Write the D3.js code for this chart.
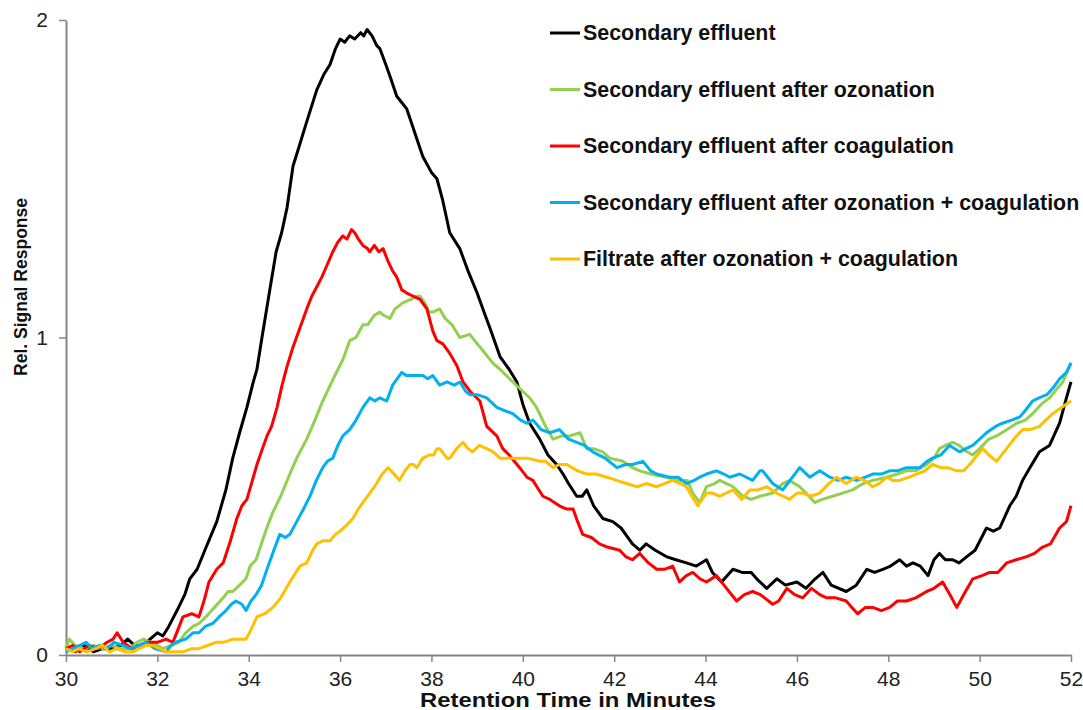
<!DOCTYPE html>
<html>
<head>
<meta charset="utf-8">
<script src="https://cdn.jsdelivr.net/npm/d3@7"></script>
<style>
  html, body { margin: 0; padding: 0; background: #fff; }
  svg { display: block; font-family: "Liberation Sans", Arial, sans-serif; }
</style>
</head>
<body>
<svg id="chart" width="1083" height="710"></svg>
<script>
// ---- data ----
const seriesNames = [
  "Secondary effluent",
  "Secondary effluent after ozonation",
  "Secondary effluent after coagulation",
  "Secondary effluent after ozonation + coagulation",
  "Filtrate after ozonation + coagulation"
];
const seriesColors = ["#000000", "#92D050", "#FF0000", "#00B0F0", "#FFC000"];

const xTicks = [30, 32, 34, 36, 38, 40, 42, 44, 46, 48, 50, 52];
const yTicks = [0, 1, 2];

const blackX = [30.0,30.2,30.4,30.6,30.8,31.0,31.2,31.35,31.5,31.7,31.84,32.0,32.12,32.25,32.43,32.6,32.71,32.87,33.04,33.3,33.5,33.65,33.8,33.96,34.1,34.18,34.29,34.45,34.6,34.72,34.84,34.97,35.1,35.27,35.49,35.65,35.78,35.9,36.0,36.1,36.21,36.32,36.45,36.52,36.59,36.7,36.8,36.87,37.0,37.1,37.24,37.35,37.46,37.6,37.81,38.0,38.12,38.25,38.4,38.62,38.8,39.0,39.15,39.28,39.5,39.7,39.87,40.0,40.15,40.37,40.55,40.74,40.88,41.0,41.18,41.3,41.4,41.55,41.75,41.97,42.15,42.4,42.56,42.7,42.9,43.14,43.35,43.58,43.8,44.02,44.15,44.35,44.6,44.8,45.0,45.12,45.34,45.56,45.75,46.0,46.2,46.4,46.57,46.75,47.08,47.3,47.53,47.7,47.88,48.05,48.25,48.4,48.54,48.7,48.87,49.0,49.12,49.25,49.41,49.55,49.72,49.9,50.15,50.3,50.44,50.66,50.8,50.94,51.1,51.31,51.53,51.75,51.9,52.0];
const blackY = [0.02,0.01,0.03,0.01,0.02,0.02,0.03,0.05,0.03,0.03,0.05,0.07,0.06,0.09,0.14,0.19,0.24,0.27,0.33,0.42,0.52,0.62,0.70,0.78,0.86,0.90,1.00,1.14,1.27,1.33,1.41,1.54,1.60,1.68,1.78,1.83,1.86,1.91,1.94,1.93,1.95,1.94,1.96,1.95,1.97,1.95,1.92,1.91,1.86,1.82,1.76,1.74,1.72,1.66,1.57,1.52,1.50,1.43,1.33,1.28,1.21,1.14,1.08,1.03,0.94,0.90,0.86,0.79,0.73,0.68,0.63,0.60,0.57,0.54,0.50,0.50,0.52,0.47,0.43,0.42,0.40,0.35,0.33,0.35,0.33,0.31,0.30,0.29,0.28,0.30,0.26,0.23,0.27,0.26,0.26,0.24,0.21,0.24,0.22,0.23,0.21,0.24,0.26,0.22,0.20,0.22,0.27,0.26,0.27,0.28,0.30,0.28,0.29,0.28,0.25,0.30,0.32,0.30,0.30,0.29,0.31,0.33,0.40,0.39,0.40,0.47,0.50,0.55,0.59,0.64,0.66,0.73,0.81,0.86];

const greenX = [30.0,30.07,30.2,30.4,30.6,30.8,31.0,31.2,31.4,31.55,31.7,31.85,32.0,32.12,32.3,32.47,32.62,32.78,32.92,33.06,33.25,33.44,33.55,33.65,33.8,33.94,34.03,34.16,34.3,34.42,34.53,34.7,34.9,35.05,35.27,35.45,35.62,35.85,36.06,36.21,36.35,36.5,36.6,36.75,36.87,36.95,37.09,37.2,37.38,37.55,37.68,37.75,37.85,37.95,38.03,38.18,38.3,38.45,38.62,38.84,39.0,39.12,39.34,39.5,39.71,40.0,40.15,40.3,40.5,40.66,40.85,41.03,41.25,41.4,41.55,41.75,41.9,42.19,42.4,42.56,42.8,43.14,43.43,43.6,43.72,43.87,44.02,44.2,44.31,44.6,44.82,45.0,45.19,45.47,45.69,45.84,46.06,46.2,46.39,46.55,46.78,47.0,47.22,47.45,47.66,47.97,48.2,48.4,48.6,48.84,49.0,49.12,49.25,49.41,49.55,49.72,49.85,50.0,50.2,50.37,50.6,50.81,51.0,51.16,51.35,51.53,51.7,51.82,52.0];
const greenY = [0.02,0.05,0.03,0.02,0.03,0.02,0.03,0.02,0.02,0.04,0.05,0.04,0.03,0.02,0.03,0.04,0.07,0.09,0.10,0.12,0.15,0.18,0.20,0.20,0.22,0.24,0.28,0.30,0.36,0.41,0.45,0.50,0.57,0.62,0.68,0.74,0.80,0.87,0.93,0.99,1.00,1.04,1.04,1.07,1.08,1.07,1.06,1.09,1.11,1.12,1.13,1.13,1.11,1.08,1.08,1.09,1.06,1.04,1.00,1.01,0.98,0.96,0.92,0.90,0.87,0.83,0.81,0.78,0.72,0.68,0.69,0.69,0.70,0.65,0.65,0.64,0.62,0.61,0.59,0.58,0.57,0.56,0.55,0.55,0.51,0.48,0.53,0.54,0.55,0.53,0.50,0.49,0.50,0.51,0.54,0.55,0.53,0.51,0.48,0.49,0.50,0.51,0.52,0.54,0.55,0.56,0.57,0.58,0.58,0.60,0.62,0.65,0.66,0.67,0.66,0.64,0.63,0.65,0.68,0.69,0.71,0.73,0.74,0.76,0.79,0.81,0.84,0.86,0.92];

const redX = [30.0,30.15,30.3,30.5,30.7,30.9,31.03,31.12,31.25,31.45,31.6,31.75,32.0,32.19,32.34,32.45,32.56,32.75,32.91,33.02,33.13,33.3,33.44,33.6,33.74,33.85,33.96,34.08,34.18,34.3,34.4,34.5,34.62,34.73,34.84,34.97,35.12,35.27,35.38,35.49,35.6,35.72,35.84,35.95,36.06,36.15,36.25,36.32,36.4,36.5,36.6,36.65,36.75,36.85,36.94,37.05,37.15,37.24,37.35,37.46,37.6,37.75,37.9,38.03,38.12,38.25,38.4,38.56,38.69,38.85,39.06,39.21,39.43,39.56,39.7,39.93,40.09,40.22,40.44,40.59,40.8,40.95,41.1,41.2,41.31,41.5,41.68,41.85,42.12,42.25,42.4,42.56,42.75,42.93,43.1,43.28,43.43,43.58,43.72,43.88,44.02,44.24,44.46,44.68,44.85,45.03,45.2,45.47,45.6,45.78,45.95,46.13,46.32,46.5,46.65,46.85,47.08,47.2,47.33,47.5,47.66,47.85,48.03,48.2,48.4,48.6,48.84,49.0,49.19,49.35,49.5,49.65,49.85,50.05,50.22,50.4,50.59,50.8,51.03,51.2,51.38,51.55,51.75,51.9,52.0];
const redY = [0.02,0.03,0.01,0.03,0.02,0.04,0.05,0.07,0.04,0.02,0.03,0.04,0.04,0.05,0.04,0.08,0.12,0.13,0.12,0.17,0.23,0.27,0.29,0.36,0.43,0.47,0.49,0.55,0.60,0.65,0.69,0.72,0.78,0.85,0.91,0.97,1.03,1.09,1.13,1.16,1.19,1.23,1.27,1.30,1.32,1.31,1.34,1.33,1.31,1.29,1.28,1.27,1.29,1.27,1.28,1.24,1.21,1.19,1.15,1.14,1.13,1.12,1.09,1.02,0.99,0.98,0.95,0.91,0.86,0.83,0.80,0.72,0.69,0.65,0.63,0.59,0.56,0.55,0.50,0.49,0.47,0.46,0.46,0.42,0.38,0.37,0.35,0.34,0.33,0.31,0.30,0.32,0.29,0.27,0.27,0.28,0.23,0.25,0.26,0.24,0.23,0.25,0.21,0.17,0.19,0.20,0.19,0.16,0.17,0.21,0.19,0.18,0.21,0.19,0.18,0.18,0.17,0.15,0.13,0.15,0.15,0.14,0.15,0.17,0.17,0.18,0.20,0.21,0.23,0.19,0.15,0.19,0.24,0.25,0.26,0.26,0.29,0.30,0.31,0.32,0.34,0.35,0.40,0.42,0.47];

const blueX = [30.0,30.15,30.3,30.44,30.58,30.72,30.9,31.05,31.25,31.4,31.6,31.75,31.95,32.19,32.3,32.4,32.62,32.78,32.91,33.05,33.22,33.35,33.5,33.62,33.72,33.85,33.94,34.05,34.16,34.28,34.4,34.55,34.68,34.8,34.9,35.05,35.2,35.34,35.48,35.62,35.72,35.84,35.95,36.06,36.21,36.35,36.5,36.65,36.76,36.87,37.02,37.15,37.35,37.45,37.53,37.68,37.81,37.92,38.03,38.18,38.34,38.5,38.62,38.75,38.84,39.0,39.21,39.43,39.6,39.78,39.95,40.09,40.22,40.4,40.59,40.8,41.0,41.18,41.35,41.53,41.8,42.06,42.25,42.4,42.63,42.8,42.93,43.21,43.4,43.58,43.75,43.87,44.02,44.24,44.4,44.53,44.75,45.03,45.19,45.25,45.47,45.69,45.85,46.06,46.28,46.5,46.72,46.9,47.08,47.3,47.5,47.66,47.85,48.03,48.2,48.4,48.69,48.85,48.97,49.15,49.34,49.56,49.7,49.85,50.0,50.15,50.35,50.5,50.7,50.88,51.0,51.16,51.3,51.47,51.6,51.75,51.9,52.0];
const blueY = [0.01,0.02,0.03,0.04,0.02,0.03,0.02,0.04,0.03,0.02,0.03,0.04,0.02,0.01,0.03,0.04,0.05,0.07,0.07,0.09,0.10,0.12,0.14,0.16,0.17,0.16,0.14,0.17,0.19,0.22,0.27,0.33,0.38,0.37,0.38,0.42,0.46,0.50,0.55,0.59,0.61,0.62,0.66,0.69,0.71,0.74,0.78,0.81,0.80,0.81,0.80,0.85,0.89,0.88,0.88,0.88,0.88,0.87,0.88,0.85,0.86,0.85,0.86,0.83,0.82,0.82,0.81,0.78,0.77,0.76,0.74,0.73,0.74,0.71,0.70,0.71,0.68,0.67,0.66,0.64,0.62,0.59,0.60,0.60,0.61,0.58,0.57,0.56,0.56,0.54,0.55,0.56,0.57,0.58,0.57,0.56,0.57,0.55,0.58,0.58,0.54,0.52,0.55,0.59,0.56,0.58,0.56,0.55,0.56,0.55,0.56,0.57,0.57,0.58,0.58,0.59,0.59,0.61,0.62,0.63,0.66,0.64,0.65,0.66,0.68,0.70,0.72,0.73,0.74,0.75,0.77,0.80,0.81,0.82,0.84,0.87,0.89,0.92];

const orangeX = [30.0,30.15,30.28,30.45,30.65,30.8,30.95,31.1,31.3,31.47,31.6,31.75,31.9,32.05,32.19,32.4,32.56,32.75,32.91,33.1,33.28,33.45,33.65,33.8,33.94,34.05,34.18,34.35,34.53,34.7,34.9,35.12,35.27,35.4,35.49,35.62,35.78,35.9,36.0,36.15,36.28,36.4,36.5,36.65,36.8,36.92,37.05,37.18,37.3,37.42,37.53,37.6,37.68,37.81,37.95,38.05,38.12,38.18,38.34,38.4,38.55,38.69,38.8,38.9,39.05,39.21,39.35,39.5,39.7,39.93,40.1,40.37,40.5,40.66,40.8,40.96,41.2,41.4,41.6,41.84,42.05,42.27,42.5,42.7,42.93,43.1,43.28,43.45,43.58,43.7,43.83,44.02,44.15,44.31,44.45,44.6,44.79,44.97,45.15,45.34,45.55,45.7,45.84,46.0,46.13,46.3,46.5,46.7,46.87,47.08,47.3,47.48,47.66,47.8,47.97,48.1,48.25,48.45,48.62,48.8,48.97,49.15,49.3,49.5,49.65,49.78,49.95,50.07,50.2,50.37,50.59,50.75,50.94,51.1,51.31,51.45,51.6,51.8,52.0];
const orangeY = [0.02,0.01,0.02,0.01,0.02,0.03,0.01,0.02,0.01,0.01,0.02,0.03,0.03,0.02,0.01,0.01,0.01,0.02,0.02,0.03,0.04,0.04,0.05,0.05,0.05,0.08,0.12,0.13,0.15,0.18,0.23,0.28,0.29,0.33,0.35,0.36,0.36,0.38,0.39,0.41,0.43,0.46,0.48,0.51,0.54,0.57,0.59,0.57,0.55,0.58,0.60,0.60,0.59,0.62,0.63,0.63,0.65,0.65,0.62,0.62,0.65,0.67,0.65,0.64,0.66,0.65,0.64,0.62,0.62,0.62,0.62,0.61,0.61,0.59,0.60,0.60,0.58,0.57,0.57,0.56,0.55,0.54,0.53,0.54,0.53,0.54,0.55,0.54,0.53,0.50,0.47,0.51,0.51,0.50,0.51,0.52,0.49,0.52,0.52,0.53,0.51,0.50,0.49,0.51,0.51,0.50,0.51,0.54,0.56,0.54,0.56,0.55,0.53,0.54,0.56,0.55,0.55,0.56,0.57,0.58,0.60,0.59,0.59,0.58,0.58,0.60,0.63,0.65,0.63,0.61,0.65,0.68,0.71,0.71,0.72,0.74,0.76,0.78,0.80];

const seriesX = [blackX, greenX, redX, blueX, orangeX];
const seriesY = [blackY, greenY, redY, blueY, orangeY];

// ---- layout ----
const svg = d3.select("#chart");
const margin = { left: 66, right: 12, top: 20, bottom: 55 };
const W = 1083, H = 710;
const x = d3.scaleLinear().domain([30, 52]).range([margin.left, W - margin.right]);
const y = d3.scaleLinear().domain([0, 2]).range([H - margin.bottom, margin.top]);
const axisColor = "#868686";
const fontFam = "'Liberation Sans', Arial, sans-serif";

// axes
const gx = svg.append("g")
  .attr("transform", `translate(0,${y(0)})`)
  .call(d3.axisBottom(x).tickValues(xTicks).tickSizeInner(7).tickSizeOuter(0).tickPadding(9).tickFormat(d3.format("d")));
const gy = svg.append("g")
  .attr("transform", `translate(${x(30)},0)`)
  .call(d3.axisLeft(y).tickValues(yTicks).tickSizeInner(7).tickSizeOuter(0).tickPadding(11).tickFormat(d3.format("d")));

[gx, gy].forEach(g => {
  g.select(".domain").attr("stroke", axisColor).attr("stroke-width", 2);
  g.selectAll(".tick line").attr("stroke", axisColor).attr("stroke-width", 1.5);
  g.selectAll(".tick text").attr("fill", "#222").style("font-size", "21px")
    .style("font-family", fontFam);
});

// lines
const line = d3.line().x(d => x(d[0])).y(d => y(d[1])).curve(d3.curveLinear);
seriesNames.forEach((name, i) => {
  const pts = seriesX[i].map((v, k) => [v, seriesY[i][k]]);
  svg.append("path")
    .datum(pts)
    .attr("fill", "none")
    .attr("stroke", seriesColors[i])
    .attr("stroke-width", 3)
    .attr("stroke-linejoin", "round")
    .attr("d", line);
});

// axis titles
svg.append("text")
  .attr("x", 568)
  .attr("y", 707)
  .attr("text-anchor", "middle")
  .attr("textLength", 296)
  .attr("lengthAdjust", "spacingAndGlyphs")
  .style("font-family", fontFam)
  .style("font-size", "20px").style("font-weight", "bold").attr("fill", "#111")
  .text("Retention Time in Minutes");
svg.append("text")
  .attr("transform", `translate(27,287) rotate(-90)`)
  .attr("text-anchor", "middle")
  .style("font-family", fontFam)
  .style("font-size", "17.5px").style("font-weight", "bold").attr("fill", "#111")
  .text("Rel. Signal Response");

// legend
const legend = svg.append("g");
seriesNames.forEach((name, i) => {
  const ly = 33 + i * 56.5;
  legend.append("line")
    .attr("x1", 550).attr("x2", 580).attr("y1", ly).attr("y2", ly)
    .attr("stroke", seriesColors[i]).attr("stroke-width", 3);
  legend.append("text")
    .attr("x", 583).attr("y", ly).attr("dy", "0.35em")
    .style("font-family", fontFam)
    .style("font-size", "21.4px").style("font-weight", "bold").attr("fill", "#111")
    .text(name);
});
</script>
</body>
</html>
